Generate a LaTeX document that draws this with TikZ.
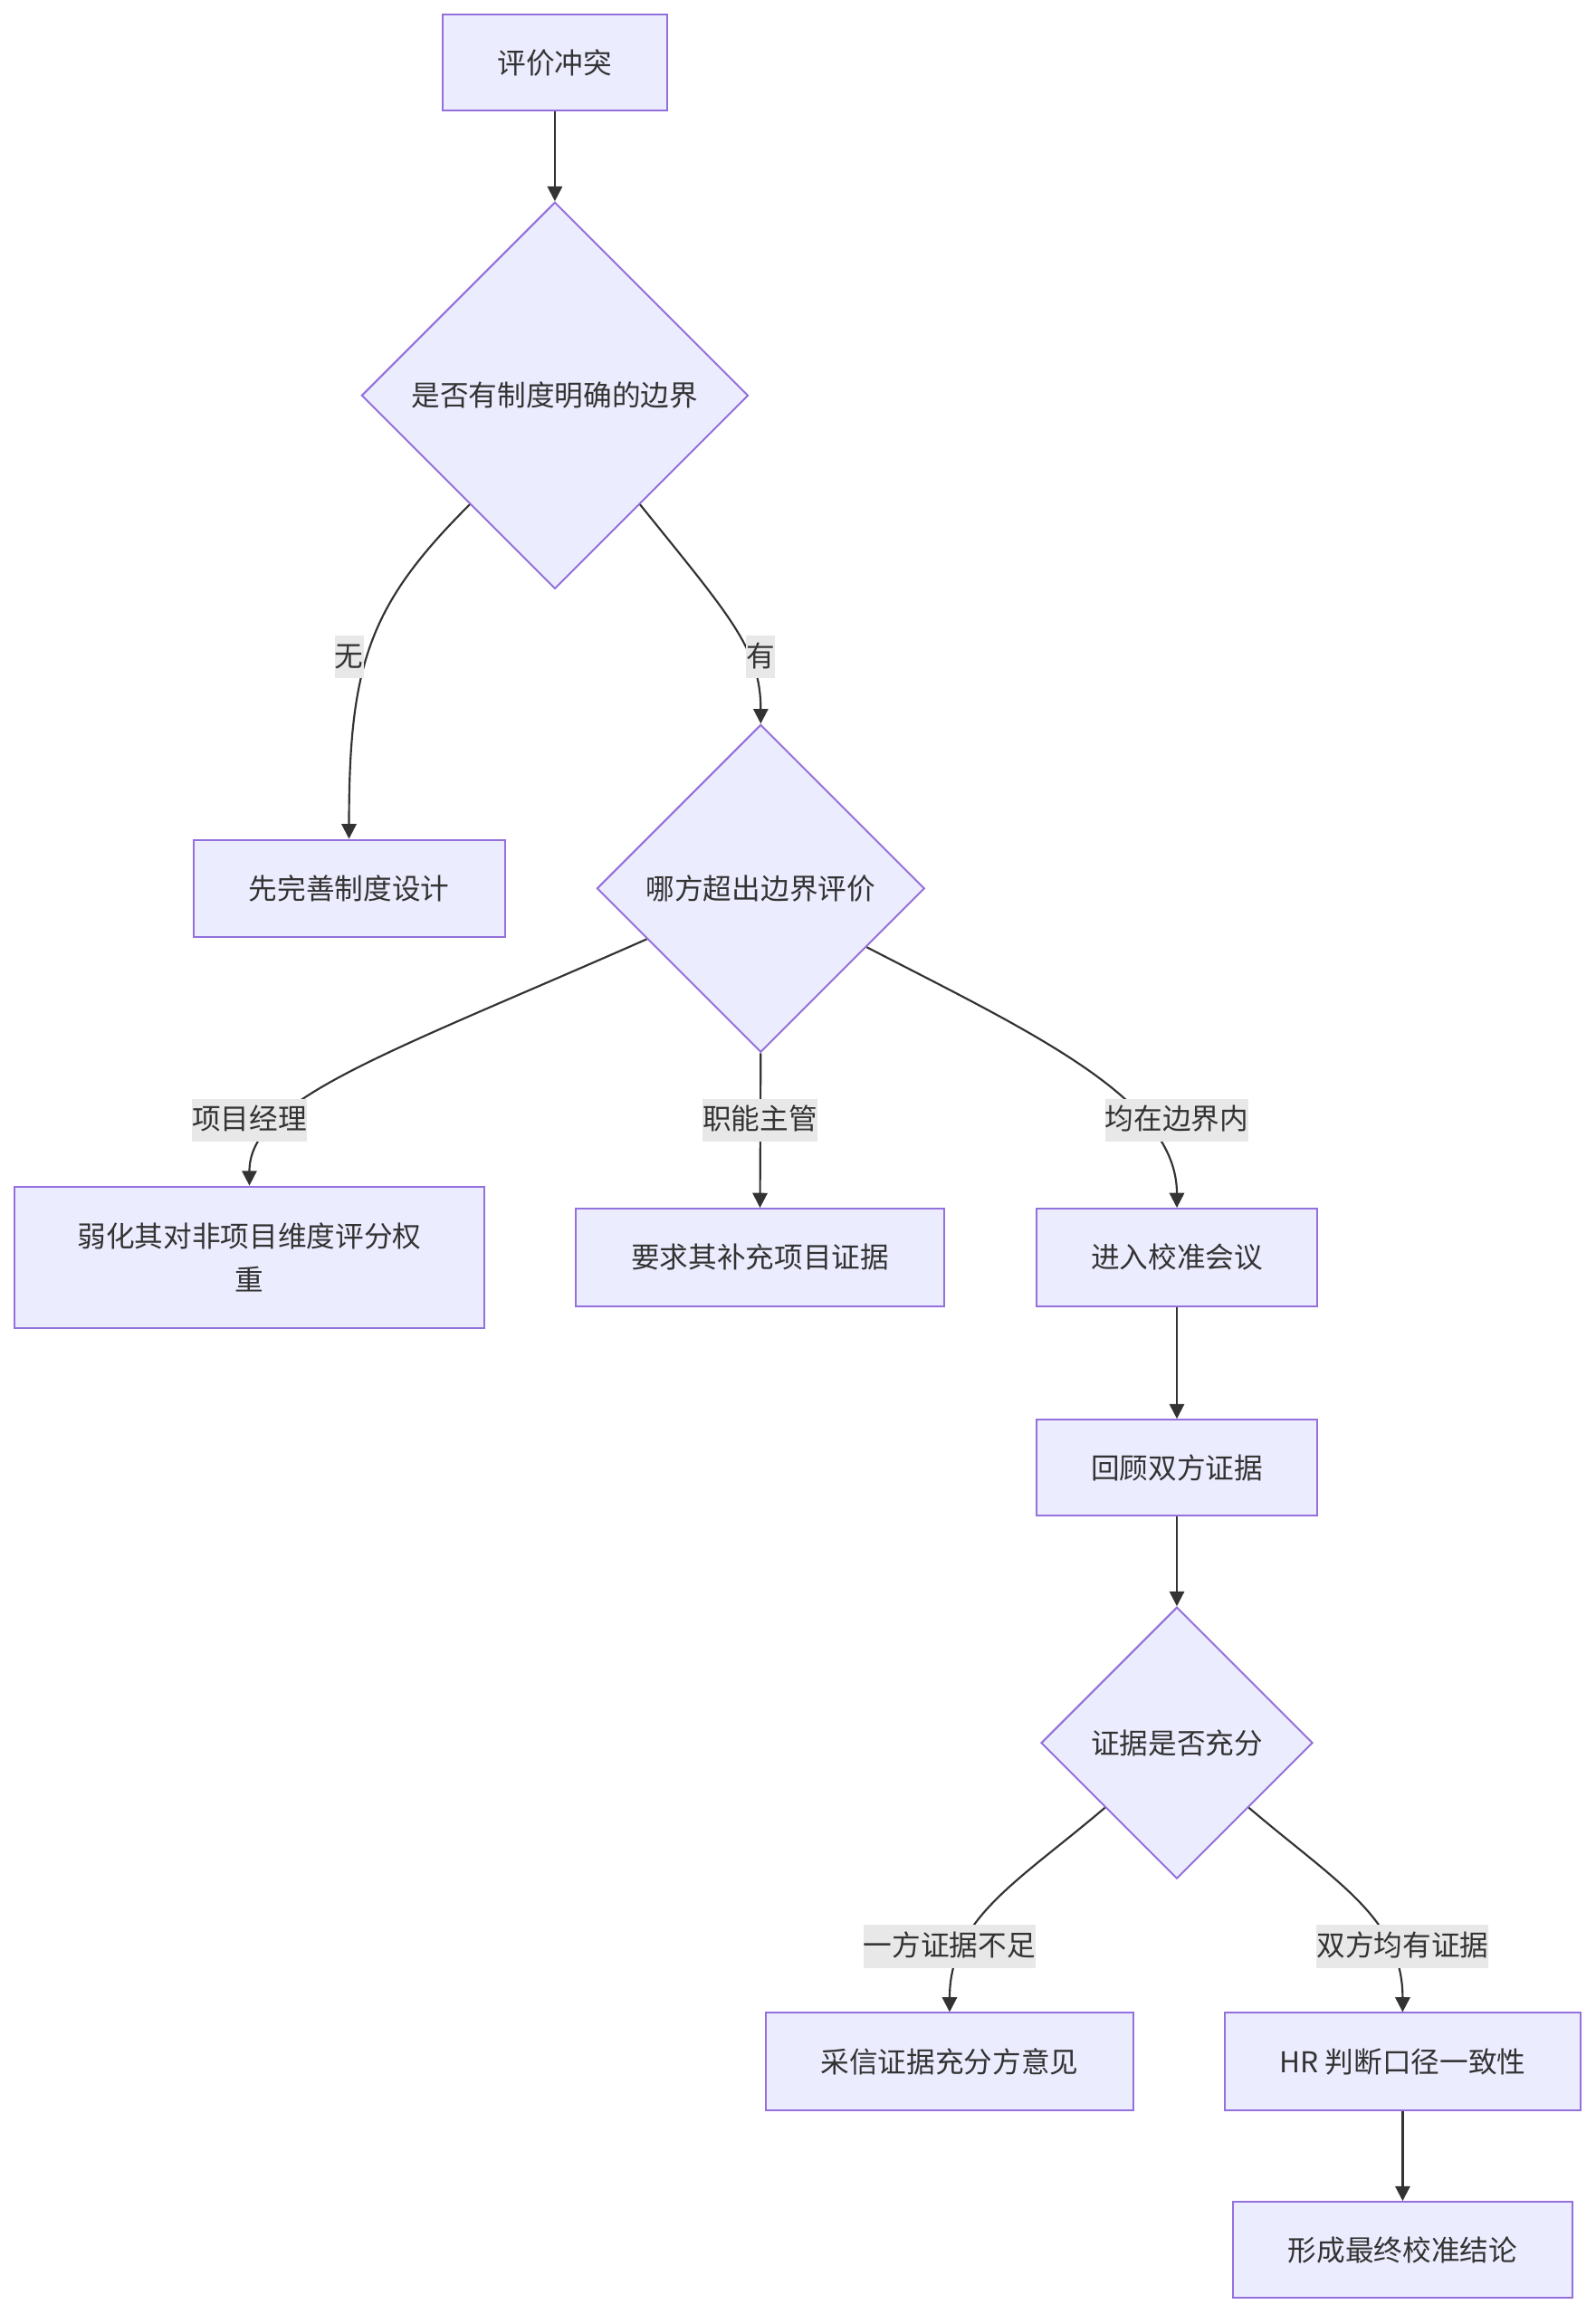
\documentclass[tikz,border=0pt]{standalone}
\usepackage{fontspec}
\setmainfont{Noto Sans CJK SC}
\usetikzlibrary{shapes.geometric,arrows.meta}
\definecolor{nodefill}{HTML}{ECECFF}
\definecolor{nodeline}{HTML}{9370DB}
\definecolor{edgeline}{HTML}{333333}
\definecolor{labelbg}{HTML}{E8E8E8}
\definecolor{txt}{HTML}{333333}
\newcommand\uu{0.489pt}
\begin{document}
\begin{tikzpicture}[x=0.489pt,y=-0.489pt,
  font=\fontsize{9.5pt}{14.2pt}\selectfont, text=txt,
  box/.style={draw=nodeline,fill=nodefill,line width=0.6pt,inner sep=0pt,align=center},
  dia/.style={diamond,aspect=1,draw=nodeline,fill=nodefill,line width=0.6pt,inner sep=0pt},
  lbl/.style={fill=labelbg,inner xsep=0pt,inner ysep=0pt,minimum height=14.2pt,text height=0.82em,text depth=0.18em},
  flow/.style={draw=edgeline,line width=0.65pt,-{Triangle[length=4.9pt,width=4.9pt]}}
]
\path[use as bounding box] (0,0) rectangle (1081,1568);

\node[box,minimum width=152*\uu,minimum height=65*\uu] (A) at (376,42.5) {评价冲突};
\node[dia,minimum width=262*\uu,minimum height=262*\uu] (D1) at (376,268) {是否有制度明确的边界};
\node[box,minimum width=211*\uu,minimum height=66*\uu] (B) at (236.5,602) {先完善制度设计};
\node[dia,minimum width=222*\uu,minimum height=222*\uu] (D2) at (515.5,602) {哪方超出边界评价};
\node[box,minimum width=318*\uu,minimum height=96*\uu] (C) at (169,852) {弱化其对非项目维度评分权\\重};
\node[box,minimum width=250*\uu,minimum height=66*\uu] (D) at (515,852) {要求其补充项目证据};
\node[box,minimum width=190*\uu,minimum height=66*\uu] (E) at (797.5,852) {进入校准会议};
\node[box,minimum width=190*\uu,minimum height=65*\uu] (F) at (797.5,994.5) {回顾双方证据};
\node[dia,minimum width=184*\uu,minimum height=184*\uu] (D3) at (797.5,1181) {证据是否充分};
\node[box,minimum width=249*\uu,minimum height=66*\uu] (G) at (643.5,1397) {采信证据充分方意见};
\node[box,minimum width=241*\uu,minimum height=66*\uu] (H) at (950.5,1397) {HR 判断口径一致性};
\node[box,minimum width=230*\uu,minimum height=65*\uu] (I) at (950.5,1524.5) {形成最终校准结论};

\draw[flow] (A.south) -- (D1.north);
\draw[flow] (D1.232) .. controls (250,410) and (236.5,450) .. (B.north);
\draw[flow] (D1.-52) .. controls (495,418) and (515.5,440) .. (D2.north);
\draw[flow] (D2.204) .. controls (260,715) and (169,745) .. (C.north);
\draw[flow] (D2.south) -- (D.north);
\draw[flow] (D2.-29) .. controls (700,700) and (797.5,745) .. (E.north);
\draw[flow] (E.south) -- (F.north);
\draw[flow] (F.south) -- (D3.north);
\draw[flow] (D3.222) .. controls (690,1275) and (643.5,1300) .. (G.north);
\draw[flow] (D3.-42) .. controls (905,1275) and (950.5,1300) .. (H.north);
\draw[flow] (H.south) -- (I.north);

\node[lbl] (L1) at (236.6,445) {无};
\node[lbl] (L2) at (515.3,445) {有};
\node[lbl] (L3) at (169,759) {项目经理};
\node[lbl] (L4) at (515,759) {职能主管};
\node[lbl] (L5) at (797.5,759) {均在边界内};
\node[lbl] (L6) at (643.5,1319) {一方证据不足};
\node[lbl] (L7) at (950.5,1319) {双方均有证据};
\end{tikzpicture}
\end{document}
